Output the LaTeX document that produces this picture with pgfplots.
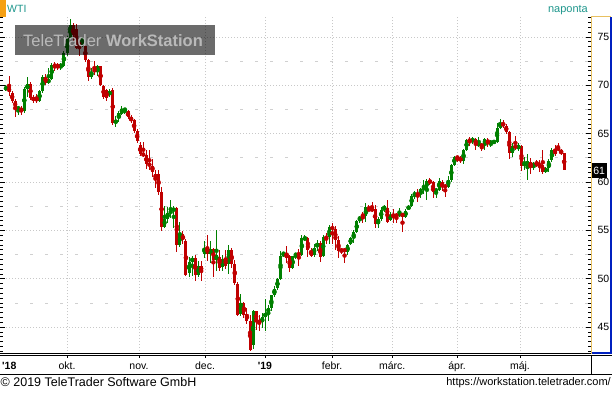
\documentclass[border=0pt]{standalone}
\usepackage{pgfplots}
\pgfplotsset{compat=1.18}
\usepackage{pgfplotstable}
\usepackage{fontspec}
\setmainfont{Liberation Sans}
\definecolor{cgreen}{RGB}{0,128,0}
\definecolor{cred}{RGB}{192,0,0}
\definecolor{cgold}{RGB}{232,192,96}
\definecolor{cblue}{RGB}{0,32,192}
\definecolor{cteal}{RGB}{30,150,140}
\definecolor{cgrid}{RGB}{200,200,200}
\definecolor{corange}{RGB}{245,160,20}
\definecolor{cwm}{RGB}{185,185,185}

\pgfplotstableread{
i o h l c
0 69.6 70.0 69.4 69.8
1 69.8 71.0 68.9 69.3
2 69.2 69.4 68.2 68.4
3 68.4 68.6 66.7 67.7
4 67.6 67.9 66.9 67.7
5 67.7 67.9 66.9 67.3
6 67.3 69.8 67.1 69.6
7 69.6 70.9 68.8 70.1
8 70.1 70.3 68.5 68.7
9 68.7 69.0 68.2 68.5
10 68.7 69.1 68.2 68.4
11 68.4 69.5 68.3 69.4
12 69.4 71.1 69.2 70.9
13 70.9 71.2 70.0 70.2
14 70.2 71.8 70.1 70.7
15 70.7 72.3 70.6 72.1
16 72.1 72.4 71.5 72.0
17 72.1 72.3 71.6 71.9
18 72.0 72.3 71.6 72.1
19 72.0 73.6 71.9 73.4
20 73.4 75.1 73.0 74.9
21 74.9 76.9 74.8 76.2
22 76.2 76.5 74.6 75.2
23 75.8 76.3 73.8 73.9
24 74.4 74.9 73.0 74.2
25 74.2 75.0 74.0 74.9
26 74.1 74.2 72.4 72.6
27 72.6 72.7 70.5 70.9
28 70.9 71.8 70.7 71.4
29 71.6 72.5 71.1 71.5
30 71.4 72.1 71.0 72.0
31 72.0 72.0 69.9 70.0
32 69.9 70.0 68.6 68.8
33 69.5 69.6 68.4 68.7
34 69.0 69.6 68.8 69.4
35 69.5 69.7 65.9 66.1
36 66.1 66.8 65.7 66.4
37 66.6 67.3 66.2 67.1
38 67.0 67.9 66.9 67.6
39 67.4 67.7 67.0 67.6
40 67.4 67.5 66.5 66.7
41 66.7 66.9 66.1 66.4
42 66.4 66.5 65.1 65.3
43 65.3 65.5 64.0 64.2
44 63.8 64.1 62.7 62.9
45 63.0 64.1 62.6 62.7
46 62.8 63.3 61.4 61.9
47 61.9 63.3 61.2 61.7
48 61.7 62.4 60.5 61.0
49 60.8 61.3 59.4 60.4
50 60.8 61.3 58.7 59.0
51 59.0 59.5 54.9 55.4
52 55.4 57.5 55.3 56.2
53 56.2 57.4 55.8 56.8
54 56.8 58.1 56.3 57.0
55 57.0 57.5 55.3 57.3
56 57.3 57.4 52.8 53.5
57 53.5 55.9 53.3 54.6
58 54.6 54.9 53.6 54.0
59 53.9 54.1 50.3 50.4
60 50.6 52.3 50.2 51.7
61 51.7 52.4 50.3 52.2
62 52.2 52.5 49.8 50.4
63 50.4 51.8 50.2 51.3
64 51.3 51.8 49.8 50.8
65 52.6 53.9 52.1 53.2
66 53.2 54.5 51.8 52.6
67 52.6 53.9 51.6 53.1
68 53.1 53.2 50.2 51.9
69 51.9 55.0 50.8 52.5
70 52.3 53.0 50.8 51.1
71 51.2 52.5 50.8 52.0
72 52.1 53.0 51.0 51.3
73 51.5 53.5 50.5 53.0
74 53.0 53.2 51.1 51.5
75 51.5 51.9 49.4 49.6
76 49.5 49.7 46.2 46.3
77 46.4 48.4 46.2 47.5
78 47.5 47.6 45.9 46.3
79 46.4 47.0 45.3 45.6
80 45.6 46.3 42.5 42.6
81 43.2 46.8 42.7 46.7
82 46.7 46.7 44.7 45.5
83 45.6 46.3 44.6 45.5
84 45.5 46.5 44.9 46.0
85 46.0 47.9 44.6 46.5
86 46.5 47.3 45.6 47.0
87 47.0 48.3 46.7 48.3
88 48.3 49.3 48.1 48.9
89 49.0 50.1 48.8 50.0
90 50.0 52.9 49.9 52.4
91 52.5 52.8 52.2 52.7
92 52.6 53.4 51.6 52.1
93 52.4 52.5 50.7 51.1
94 51.1 52.4 51.0 52.4
95 52.4 52.7 52.0 52.6
96 52.6 53.1 51.3 52.5
97 52.5 54.5 52.4 54.2
98 54.1 54.5 53.9 54.2
99 54.2 54.3 52.3 53.0
100 52.9 53.2 52.3 52.4
101 52.5 53.6 52.3 53.2
102 53.3 54.0 52.9 53.7
103 53.7 53.9 51.7 52.2
104 52.4 54.5 52.2 54.3
105 54.3 54.7 53.6 54.2
106 54.3 55.6 53.6 55.4
107 55.4 55.8 53.6 55.1
108 55.1 55.5 53.0 54.0
109 54.0 54.4 52.2 52.9
110 53.0 53.2 52.6 52.9
111 53.0 53.2 51.6 52.9
112 52.8 53.6 52.5 53.5
113 53.6 54.3 53.5 54.2
114 54.2 55.0 53.7 54.8
115 54.8 56.1 54.7 56.0
116 56.1 56.5 55.8 56.4
117 56.6 56.9 55.8 56.5
118 56.5 57.8 55.9 57.4
119 57.3 57.6 57.0 57.0
120 57.2 57.9 56.9 57.1
121 57.2 57.6 55.3 55.7
122 55.7 56.4 55.3 56.2
123 56.2 57.4 56.0 57.1
124 57.2 57.6 56.9 57.5
125 57.3 58.1 55.8 55.9
126 56.1 56.9 56.0 56.6
127 56.6 57.2 55.8 56.5
128 56.6 56.8 55.8 56.5
129 56.5 57.3 56.4 56.8
130 56.8 56.8 54.8 56.4
131 56.4 57.2 56.3 57.0
132 57.2 57.6 57.1 57.5
133 57.5 58.8 57.4 58.6
134 58.7 59.1 58.2 58.8
135 58.8 59.3 57.9 58.7
136 58.8 59.4 58.4 59.3
137 59.3 60.2 58.8 59.4
138 59.4 60.3 58.1 60.1
139 60.1 60.4 59.7 60.0
140 60.0 60.1 58.4 59.0
141 59.1 59.4 58.4 59.2
142 59.2 60.4 59.1 60.1
143 60.0 60.2 59.1 59.5
144 59.6 59.8 58.5 59.5
145 59.5 60.6 59.4 60.2
146 60.2 61.9 60.0 61.8
147 61.8 62.7 61.7 62.6
148 62.6 62.7 62.1 62.5
149 62.5 62.7 62.0 62.2
150 62.2 63.4 61.9 63.3
151 63.3 64.5 63.2 64.4
152 64.4 64.7 63.7 64.2
153 64.2 64.7 63.9 64.5
154 64.5 64.6 63.3 63.8
155 63.9 64.7 63.6 63.9
156 63.9 64.0 63.2 63.7
157 63.8 64.6 63.3 64.5
158 64.4 64.6 63.6 64.0
159 64.1 64.3 63.6 64.1
160 64.1 64.4 63.9 64.2
161 64.1 66.1 64.0 65.6
162 65.6 66.5 65.5 66.1
163 66.1 66.4 65.6 65.8
164 65.8 66.0 65.0 65.2
165 65.2 65.3 62.4 63.0
166 63.0 64.0 62.6 63.7
167 63.7 64.8 63.3 63.6
168 63.6 64.0 63.2 63.7
169 63.7 63.8 61.1 61.7
170 61.7 62.6 61.3 62.0
171 61.5 62.9 60.2 62.2
172 62.1 62.5 60.8 61.6
173 61.6 62.1 61.2 62.0
174 62.1 62.3 61.6 61.7
175 61.8 62.3 61.0 61.7
176 61.8 63.3 60.8 61.0
177 61.0 61.6 60.9 61.5
178 61.5 62.4 61.0 62.2
179 62.3 63.5 62.1 63.3
180 63.3 63.8 62.7 62.9
181 63.6 64.0 63.2 63.3
182 63.3 63.4 62.8 63.0
183 63.0 63.0 61.2 61.2
}\wti

\begin{document}
\begin{tikzpicture}[x=1pt,y=1pt]
\path[use as bounding box] (0,0) rectangle (612,392);
% grids and candles
\begin{axis}[at={(0pt,38pt)}, anchor=south west, width=591pt, height=337pt, scale only axis,
  xmin=-1.967, xmax=191.8, ymin=42.22, ymax=77.07,
  axis line style={draw=none}, tick style={draw=none},
  xtick={20,43.6,65.25,84.9,106.9,126.6,147.9,168.5}, xticklabels={},
  ytick={45,50,...,75}, yticklabels={}, minor ytick={47.5,52.5,...,72.5},
  xmajorgrids, ymajorgrids, yminorgrids,
  major grid style={cgrid, line width=0.8pt, dash pattern=on 1pt off 2pt},
  minor grid style={cgrid!85, line width=0.8pt, dash pattern=on 3pt off 12pt},
]
\addplot[cgreen, only marks, mark=none, restrict y to domain=0:200,
  error bars/.cd, y dir=both, y explicit, error mark=none,
  error bar style={line width=1pt, cgreen}]
  table[x=i, y expr={\thisrow{c}<\thisrow{o} ? -100 : (\thisrow{h}+\thisrow{l})/2},
        y error expr={(\thisrow{h}-\thisrow{l})/2}] {\wti};
\addplot[cgreen, only marks, mark=none, restrict y to domain=0:200,
  error bars/.cd, y dir=both, y explicit, error mark=none,
  error bar style={line width=3pt, cgreen}]
  table[x=i, y expr={\thisrow{c}<\thisrow{o} ? -100 : (\thisrow{o}+\thisrow{c})/2},
        y error expr={max(abs(\thisrow{c}-\thisrow{o})/2,0.06)}] {\wti};
\addplot[cred, only marks, mark=none, restrict y to domain=0:200,
  error bars/.cd, y dir=both, y explicit, error mark=none,
  error bar style={line width=1pt, cred}]
  table[x=i, y expr={\thisrow{c}<\thisrow{o} ? (\thisrow{h}+\thisrow{l})/2 : -100},
        y error expr={(\thisrow{h}-\thisrow{l})/2}] {\wti};
\addplot[cred, only marks, mark=none, restrict y to domain=0:200,
  error bars/.cd, y dir=both, y explicit, error mark=none,
  error bar style={line width=3pt, cred}]
  table[x=i, y expr={\thisrow{c}<\thisrow{o} ? (\thisrow{o}+\thisrow{c})/2 : -100},
        y error expr={max(abs(\thisrow{c}-\thisrow{o})/2,0.06)}] {\wti};
\end{axis}
% ticks and labels
\begin{axis}[at={(0pt,38pt)}, anchor=south west, width=591pt, height=337pt, scale only axis,
  xmin=-1.967, xmax=191.8, ymin=42.22, ymax=77.07,
  axis line style={draw=none},
  ytick={45,50,...,75}, minor ytick={42.5,43,...,77},
  ytick pos=both, yticklabel pos=right, tick align=inside,
  major tick length=5pt, minor tick length=3pt,
  tick style={black, line width=0.8pt},
  yticklabel style={font=\fontsize{10.5}{12}\selectfont, anchor=west, xshift=3pt},
  /pgf/number format/assume math mode=true,
  xtick={20,43.6,65.25,84.9,106.9,126.6,147.9,168.5},
  xticklabels={okt.,nov.,dec.,\textbf{\textquotesingle 19},febr.,márc.,ápr.,máj.},
  x tick style={draw=none},
  xticklabel style={font=\fontsize{10.5}{12}\selectfont, anchor=base, yshift=-15pt},
]
\end{axis}
% watermark
\fill[black, opacity=0.58] (15,337) rectangle (215,367);
\node[anchor=base west, inner sep=0, text=cwm, font=\fontsize{16.5}{18}\selectfont] at (23,346) {TeleTrader \textbf{WorkStation}};
% header
\fill[corange] (0,375) rectangle (5.5,392);
\node[anchor=base west, inner sep=0, text=cteal, font=\fontsize{10.5}{12}\selectfont] at (7,379) {WTI};
\node[anchor=base east, inner sep=0, text=cteal, font=\fontsize{11}{12}\selectfont] at (588,379.5) {naponta};
% right panel
\draw[cgold, line width=1.5pt] (591.5,38.5) -- (591.5,375.3) -- (611,375.3);
\draw[cblue, line width=2pt] (591.5,38.8) -- (610.8,38.8) -- (610.8,375.3);
\fill[black] (592,213.7) rectangle (606.5,228.7);
\node[text=white, inner sep=0, font=\fontsize{10.5}{12}\selectfont] at (599.2,221.2) {61};
% bottom band
\draw[black, line width=0.8pt] (0,38.7) -- (591,38.7);
\draw[black, line width=0.8pt] (0,36.5) -- (612,36.5);
\draw[black, line width=0.8pt] (0,17.5) -- (612,17.5);
\draw[black, line width=0.8pt] (591,17.5) -- (591,36.5);
\foreach \x in {67,139,205,265,332,392,457,520} \draw[black, line width=0.8pt] (\x,36.5) -- (\x,34.5);
\node[anchor=base west, inner sep=0, font=\fontsize{10.5}{12}\selectfont\bfseries] at (2,23) {\textquotesingle 18};
% footer
\node[anchor=base west, inner sep=0, font=\fontsize{12.5}{14}\selectfont] at (0.5,6) {© 2019 TeleTrader Software GmbH};
\node[anchor=base east, inner sep=0, font=\fontsize{11}{13}\selectfont] at (611,6.3) {https://workstation.teletrader.com/};
\end{tikzpicture}
\end{document}
